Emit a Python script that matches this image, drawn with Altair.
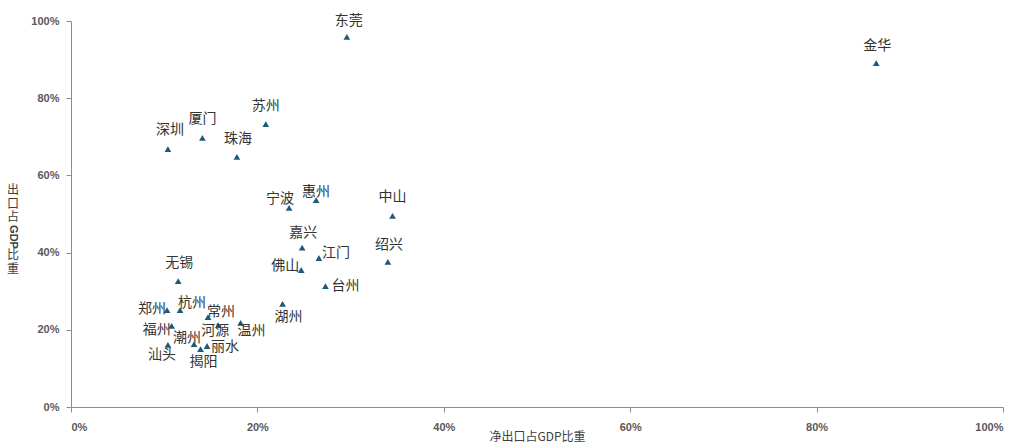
import altair as alt
import pandas as pd

cities = ["东莞", "金华", "苏州", "深圳", "厦门", "珠海", "宁波", "惠州", "中山", "嘉兴",
          "江门", "绍兴", "佛山", "台州", "无锡", "郑州", "杭州", "常州", "湖州", "福州",
          "河源", "温州", "潮州", "丽水", "揭阳", "汕头"]
net_export = [29.6, 86.4, 20.9, 10.4, 14.1, 17.8, 23.4, 26.3, 34.5, 24.8,
              26.6, 34.0, 24.7, 27.3, 11.5, 10.3, 11.7, 14.7, 22.7, 10.8,
              15.8, 18.2, 13.2, 14.6, 13.9, 10.4]
export = [95.9, 89.1, 73.3, 66.8, 69.7, 64.8, 51.6, 53.6, 49.5, 41.3,
          38.6, 37.6, 35.5, 31.3, 32.6, 25.1, 25.1, 23.3, 26.7, 21.0,
          21.2, 21.8, 16.3, 15.8, 15.0, 16.1]

# label offsets (pixels) relative to each marker
label_dx = [2, 1, 0, 2, 0, 1, -9, 0, 0, 1, 17, 1, -16, 20, 1, -15, 12, 13, 6, -15,
            -3, 11, -7, 18, 3, -6]
label_dy = [-16, -17, -18, -19, -19, -18, -9, -8, -19, -15, -5, -17, -4, 0, -18, -1,
            -7, -5, 13, 4, 6, 8, -6, 1, 13, 10]

x_title = "净出口占GDP比重"
y_title_parts = ["出\n口\n占", "GDP", "比\n重"]

df = pd.DataFrame({
    "city": cities,
    "x": [v / 100 for v in net_export],
    "y": [v / 100 for v in export],
})
one = pd.DataFrame({"k": [0]})

W, H = 932, 386
xs = alt.Scale(domain=[0, 1], nice=False, zero=True)
ys = alt.Scale(domain=[0, 1], nice=False, zero=True)

axis_common = dict(
    format=".0%", grid=False, domainColor="#8c8c8c", tickColor="#8c8c8c",
    tickSize=5, labelColor="#595959", labelFont="Liberation Sans",
    labelFontSize=11, labelFontWeight="bold", titleColor="#404040",
    titleFont="Noto Sans CJK SC", titleFontSize=12, titleFontWeight="normal",
    values=[0, 0.2, 0.4, 0.6, 0.8, 1.0],
)

points = alt.Chart(df).mark_point(shape="triangle-up", filled=True, size=45,
                                  color="#1d5a79", opacity=1).encode(
    x=alt.X("x:Q", scale=xs, title=x_title,
            axis=alt.Axis(labelPadding=9, titlePadding=-1, **axis_common)),
    y=alt.Y("y:Q", scale=ys, title=None,
            axis=alt.Axis(labelPadding=7, **axis_common)),
)

lab_layers = []
for i, c in enumerate(cities):
    lab_layers.append(
        alt.Chart(df[df.city == c]).mark_text(
            font="Noto Sans CJK SC", fontSize=14, color="#333333",
            baseline="middle", align="center", dx=label_dx[i], dy=label_dy[i]
        ).encode(x=alt.X("x:Q", scale=xs), y=alt.Y("y:Q", scale=ys), text="city:N")
    )

# y-axis title: CJK characters upright, "GDP" rotated (as in the reference)
ttl_cjk1 = alt.Chart(one).mark_text(
    text=y_title_parts[0], lineBreak="\n", lineHeight=13.5, font="Noto Sans CJK SC",
    fontSize=12, color="#404040", align="center", baseline="top", clip=False
).encode(x=alt.value(-58), y=alt.value(164))
ttl_gdp = alt.Chart(one).mark_text(
    text=y_title_parts[1], angle=90, font="Liberation Sans", fontWeight="bold",
    fontSize=11, color="#404040", align="center", baseline="middle", clip=False
).encode(x=alt.value(-58), y=alt.value(216))
ttl_cjk2 = alt.Chart(one).mark_text(
    text=y_title_parts[2], lineBreak="\n", lineHeight=13.5, font="Noto Sans CJK SC",
    fontSize=12, color="#404040", align="center", baseline="top", clip=False
).encode(x=alt.value(-58), y=alt.value(229))

chart = alt.layer(points, *lab_layers, ttl_cjk1, ttl_gdp, ttl_cjk2).properties(
    width=W, height=H,
    autosize=alt.AutoSizeParams(type="none"),
    padding={"left": 71, "top": 21, "right": 23, "bottom": 41},
    background="white",
).configure_view(stroke=None)

chart.save("out.html", embed_options={"renderer": "svg", "actions": False})
